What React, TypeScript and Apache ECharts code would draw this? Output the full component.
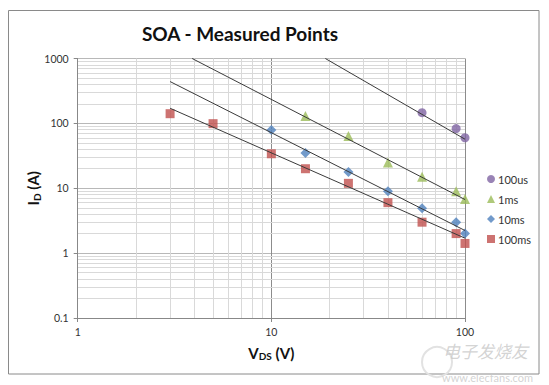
import { useEffect, useRef } from "react";
import * as echarts from "echarts";

// Measured points [V_DS (V), I_D (A)]
const points100us = [[60, 146], [90, 83], [100, 60]];
const points1ms = [[15, 130], [25, 64], [40, 25], [60, 15], [90, 9], [100, 6.8]];
const points10ms = [[10, 79], [15, 35], [25, 17.8], [40, 9], [60, 4.9], [90, 3], [100, 2]];
const points100ms = [[3, 141], [5, 99], [10, 34], [15, 20], [25, 11.9], [40, 6], [60, 3], [90, 2], [100, 1.41]];

// Power trend lines (visible end points)
const trend100us = [[19, 1000], [100, 57]];
const trend1ms = [[3.9, 1000], [100, 6.7]];
const trend10ms = [[3, 441], [100, 2.23]];
const trend100ms = [[3, 171], [100, 1.7]];

// Minor grid values
const xMinor = [2, 3, 4, 5, 6, 7, 8, 9, 20, 30, 40, 50, 60, 70, 80, 90];
const yMinor = [
  0.2, 0.3, 0.4, 0.5, 0.6, 0.7, 0.8, 0.9,
  2, 3, 4, 5, 6, 7, 8, 9,
  20, 30, 40, 50, 60, 70, 80, 90,
  200, 300, 400, 500, 600, 700, 800, 900,
];

const seriesNames = ["100us", "1ms", "10ms", "100ms"];
const FONT = "Lato, 'Open Sans', sans-serif";

export default function App() {
  const ref = useRef<HTMLDivElement>(null);
  useEffect(() => {
    if (!ref.current) return;
    const chart = echarts.init(ref.current, null, { renderer: "svg" });
    const trendStyle = { color: "#3a3a3a", width: 1 };
    const trendSeries = (data: number[][]) => ({
      type: "line",
      data,
      symbol: "none",
      silent: true,
      z: 5,
      lineStyle: trendStyle,
      legendHoverLink: false,
    });
    const fmt = (v: number) => String(Number(v.toPrecision(6)));
    chart.setOption({
      animation: false,
      backgroundColor: "#ffffff",
      textStyle: { fontFamily: FONT },
      title: {
        text: "SOA - Measured Points",
        left: 240,
        top: 24,
        textAlign: "center",
        padding: 0,
        textStyle: { fontFamily: FONT, fontSize: 19, fontWeight: "bold", color: "#111" },
      },
      grid: { left: 77.7, right: 84, top: 58.5, bottom: 67, containLabel: false },
      legend: {
        data: seriesNames,
        orient: "vertical",
        left: 487,
        top: 172,
        itemWidth: 8,
        itemHeight: 8,
        itemGap: 6,
        padding: 0,
        textStyle: { fontFamily: FONT, fontSize: 11, color: "#333", lineHeight: 14, padding: [0, 0, 0, -2] },
      },
      xAxis: {
        type: "log",
        logBase: 10,
        min: 1,
        max: 100,
        name: "{b|V}{s|DS}{b| (V)}",
        nameLocation: "middle",
        nameGap: 26,
        nameTextStyle: {
          rich: {
            b: { fontFamily: FONT, fontSize: 15, fontWeight: "bold", color: "#111", verticalAlign: "middle" },
            s: { fontFamily: FONT, fontSize: 10, fontWeight: "bold", color: "#111", verticalAlign: "middle", padding: [7, 0, 0, 0] },
          },
        },
        axisLine: { show: true, lineStyle: { color: "#888", width: 1 } },
        axisTick: { show: true, inside: false, length: 4, lineStyle: { color: "#888" } },
        axisLabel: { fontFamily: FONT, fontSize: 10.5, color: "#333", margin: 8, formatter: fmt },
        splitLine: { show: true, lineStyle: { color: "#8c8c8c", width: 1 } },
      },
      yAxis: {
        type: "log",
        logBase: 10,
        min: 0.1,
        max: 1000,
        name: "{b|I}{s|D}{b| (A)}",
        nameLocation: "middle",
        nameRotate: 90,
        nameGap: 36,
        nameMoveOverlap: false,
        nameTextStyle: {
          rich: {
            b: { fontFamily: FONT, fontSize: 15, fontWeight: "bold", color: "#111", verticalAlign: "middle" },
            s: { fontFamily: FONT, fontSize: 10, fontWeight: "bold", color: "#111", verticalAlign: "middle", padding: [7, 0, 0, 0] },
          },
        },
        axisLine: { show: true, lineStyle: { color: "#888", width: 1 } },
        axisTick: { show: true, inside: false, length: 4, lineStyle: { color: "#888" } },
        axisLabel: { fontFamily: FONT, fontSize: 10.5, color: "#333", margin: 9, formatter: fmt },
        splitLine: { show: true, lineStyle: { color: "#b8b8b8", width: 1 } },
      },
      graphic: [
        {
          type: "rect",
          shape: { x: 8.5, y: 10.5, width: 530.5, height: 363.5 },
          style: { fill: "none", stroke: "#8a8a8a", lineWidth: 1 },
          silent: true,
          z: -10,
        },
        {
          type: "circle",
          shape: { cx: 437, cy: 362, r: 15 },
          style: { fill: "none", stroke: "#e2e2e2", lineWidth: 2 },
          silent: true,
          z: 100,
        },
        {
          type: "text",
          left: 443,
          top: 342,
          style: { text: "电子发烧友", fontFamily: "'Noto Sans CJK SC', sans-serif", fontSize: 17, fontStyle: "italic", fill: "rgba(200,200,200,0.8)" },
          silent: true,
          z: 100,
        },
        {
          type: "text",
          left: 442,
          top: 372,
          style: { text: "www.elecfans.com", fontFamily: FONT, fontSize: 11, fill: "rgba(200,200,200,0.8)" },
          silent: true,
          z: 100,
        },
      ],
      series: [
        {
          name: "grid-minor",
          type: "line",
          data: [],
          silent: true,
          z: 0,
          markLine: {
            silent: true,
            z: 0,
            symbol: "none",
            label: { show: false },
            lineStyle: { color: "#d9d9d9", width: 1, type: "solid" },
            emphasis: { disabled: true },
            data: [
              ...xMinor.map((v) => ({ xAxis: v })),
              ...yMinor.map((v) => ({ yAxis: v })),
            ],
          },
        },
        {
          name: "100us",
          type: "scatter",
          data: points100us,
          symbol: "circle",
          symbolSize: 9,
          itemStyle: { color: "#8064A2" },
          z: 3,
        },
        {
          name: "1ms",
          type: "scatter",
          data: points1ms,
          symbol: "triangle",
          symbolSize: 10,
          itemStyle: { color: "#9BBB59" },
          z: 3,
        },
        {
          name: "10ms",
          type: "scatter",
          data: points10ms,
          symbol: "diamond",
          symbolSize: 10,
          itemStyle: { color: "#4F81BD" },
          z: 3,
        },
        {
          name: "100ms",
          type: "scatter",
          data: points100ms,
          symbol: "rect",
          symbolSize: 9,
          itemStyle: { color: "#C0504D" },
          z: 3,
        },
        trendSeries(trend100us),
        trendSeries(trend1ms),
        trendSeries(trend10ms),
        trendSeries(trend100ms),
      ],
    });
    return () => chart.dispose();
  }, []);
  return (
    <div
      ref={ref}
      style={{ position: "absolute", left: 0, top: 0, width: 549, height: 385, background: "#fff" }}
    />
  );
}
